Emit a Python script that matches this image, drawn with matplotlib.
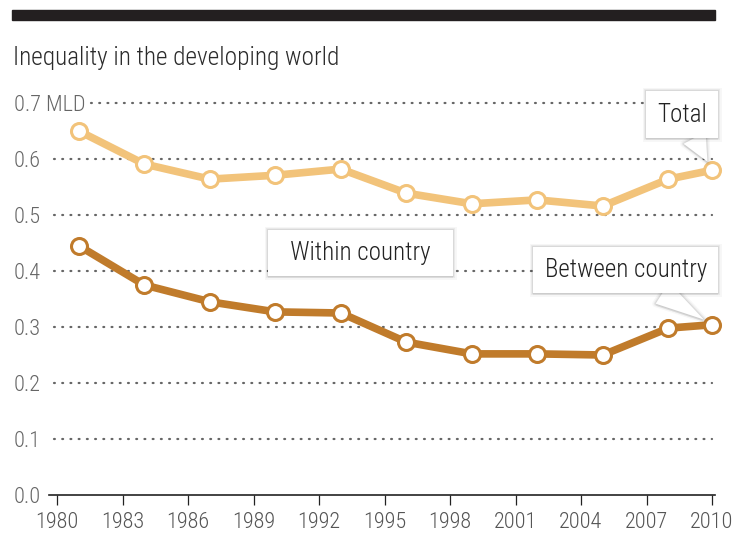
#!/usr/bin/env python3

import matplotlib

matplotlib.use("Agg")

import matplotlib.pyplot as plt
import matplotlib.patheffects as pe
from matplotlib import font_manager
from matplotlib.transforms import blended_transform_factory

years = [1981, 1984, 1987, 1990, 1993, 1996, 1999, 2002, 2005, 2008, 2010]
total = [0.650, 0.591, 0.564, 0.571, 0.582, 0.539, 0.520, 0.527, 0.516, 0.564, 0.580]
between = [0.445, 0.375, 0.345, 0.327, 0.325, 0.273, 0.252, 0.252, 0.250, 0.298, 0.304]

x_ticks = list(range(1980, 2011, 3))
y_ticks = [0.0, 0.1, 0.2, 0.3, 0.4, 0.5, 0.6, 0.7]
y_labels = ["0.0", "0.1", "0.2", "0.3", "0.4", "0.5", "0.6", "0.7 MLD"]

TOTAL_COLOR = "#f2c37a"
BETWEEN_COLOR = "#c07b2b"


def pick_font():
    names = {f.name for f in font_manager.fontManager.ttflist}
    for name in ["Roboto Condensed", "Liberation Sans Narrow", "Roboto", "DejaVu Sans"]:
        if name in names:
            return name
    return "DejaVu Sans"


def soft_shadow():
    return [
        pe.SimplePatchShadow(offset=(0, -1.5), shadow_rgbFace="#000000", alpha=0.06),
        pe.Stroke(linewidth=5, foreground="#000000", alpha=0.03),
        pe.Stroke(linewidth=3, foreground="#000000", alpha=0.05),
        pe.Stroke(linewidth=1.5, foreground="#000000", alpha=0.07),
        pe.Normal(),
    ]


def main():
    plt.rcParams["font.family"] = [pick_font(), "DejaVu Sans"]
    plt.rcParams["font.weight"] = "light"

    fig = plt.figure(figsize=(7.37, 5.5), dpi=100)
    ax = fig.add_axes([57 / 737, 55 / 550, 655 / 737, 392 / 550])

    # top black bar and title
    fig.patches.append(
        plt.Rectangle((12 / 737, 530 / 550), 703 / 737, 10 / 550,
                      transform=fig.transFigure, color="#231f20")
    )
    fig.text(13 / 737, 1 - 58 / 550, "Inequality in the developing world",
             fontsize=18.2, color="#2b2b2b", va="center", ha="left")

    ax.set_xlim(1980, 2010)
    ax.set_ylim(0, 0.7)
    for s in ax.spines.values():
        s.set_visible(False)

    # grid lines
    trans = blended_transform_factory(ax.transAxes, ax.transData)
    for y in y_ticks[1:]:
        x0 = 0.052 if y == 0.7 else -0.005
        ax.plot([x0, 1.0], [y, y], transform=trans, color="#666666",
                linestyle=(0, (0.4, 3.3)), linewidth=1.6,
                dash_capstyle="round", clip_on=False, zorder=1)
    ax.plot([-0.012, 1.004], [0, 0], transform=trans, color="#222222",
            linewidth=1.2, clip_on=False, zorder=1)

    ax.set_xticks(x_ticks)
    ax.set_xticklabels([str(v) for v in x_ticks])
    ax.set_yticks(y_ticks)
    ax.set_yticklabels(y_labels)
    ax.tick_params(axis="x", length=7, width=0.9, color="#222222",
                   labelsize=16, labelcolor="#555555", pad=5)
    ax.tick_params(axis="y", length=0, labelsize=16, labelcolor="#666666",
                   pad=31)
    for lab in ax.get_yticklabels():
        lab.set_horizontalalignment("left")

    for vals, color in [(total, TOTAL_COLOR), (between, BETWEEN_COLOR)]:
        ax.plot(years, vals, color=color, linewidth=5.5, solid_joinstyle="round",
                marker="o", markersize=11.5, markerfacecolor="white",
                markeredgecolor=color, markeredgewidth=2.2, zorder=3,
                clip_on=False)

    wedge = dict(arrowstyle="wedge,tail_width=1.0", fc="white", ec="none",
                 shrinkA=0, shrinkB=7)

    t = ax.annotate("Total", xy=(years[-1], total[-1]), xytext=(-21.5, 40),
                    textcoords="offset points", fontsize=18, color="#222222",
                    ha="center", va="center",
                    bbox=dict(boxstyle="square,pad=0.45", fc="white", ec="none"),
                    arrowprops=wedge, zorder=5, annotation_clip=False)
    t.get_bbox_patch().set_path_effects(soft_shadow())
    t.arrow_patch.set_path_effects(soft_shadow())

    t = ax.annotate("Between country", xy=(years[-1], between[-1]),
                    xytext=(-62, 39.5), textcoords="offset points", fontsize=18,
                    color="#222222", ha="center", va="center",
                    bbox=dict(boxstyle="square,pad=0.45", fc="white", ec="none"),
                    arrowprops=wedge, zorder=5, annotation_clip=False)
    t.get_bbox_patch().set_path_effects(soft_shadow())
    t.arrow_patch.set_path_effects(soft_shadow())

    t = ax.text(1993.9, 0.432, "  Within country  ", fontsize=18, color="#222222",
                ha="center", va="center",
                bbox=dict(boxstyle="square,pad=0.45", fc="white", ec="none"),
                zorder=5)
    t.get_bbox_patch().set_path_effects(soft_shadow())

    fig.savefig("out.png", dpi=100)
    plt.close(fig)


if __name__ == "__main__":
    main()
